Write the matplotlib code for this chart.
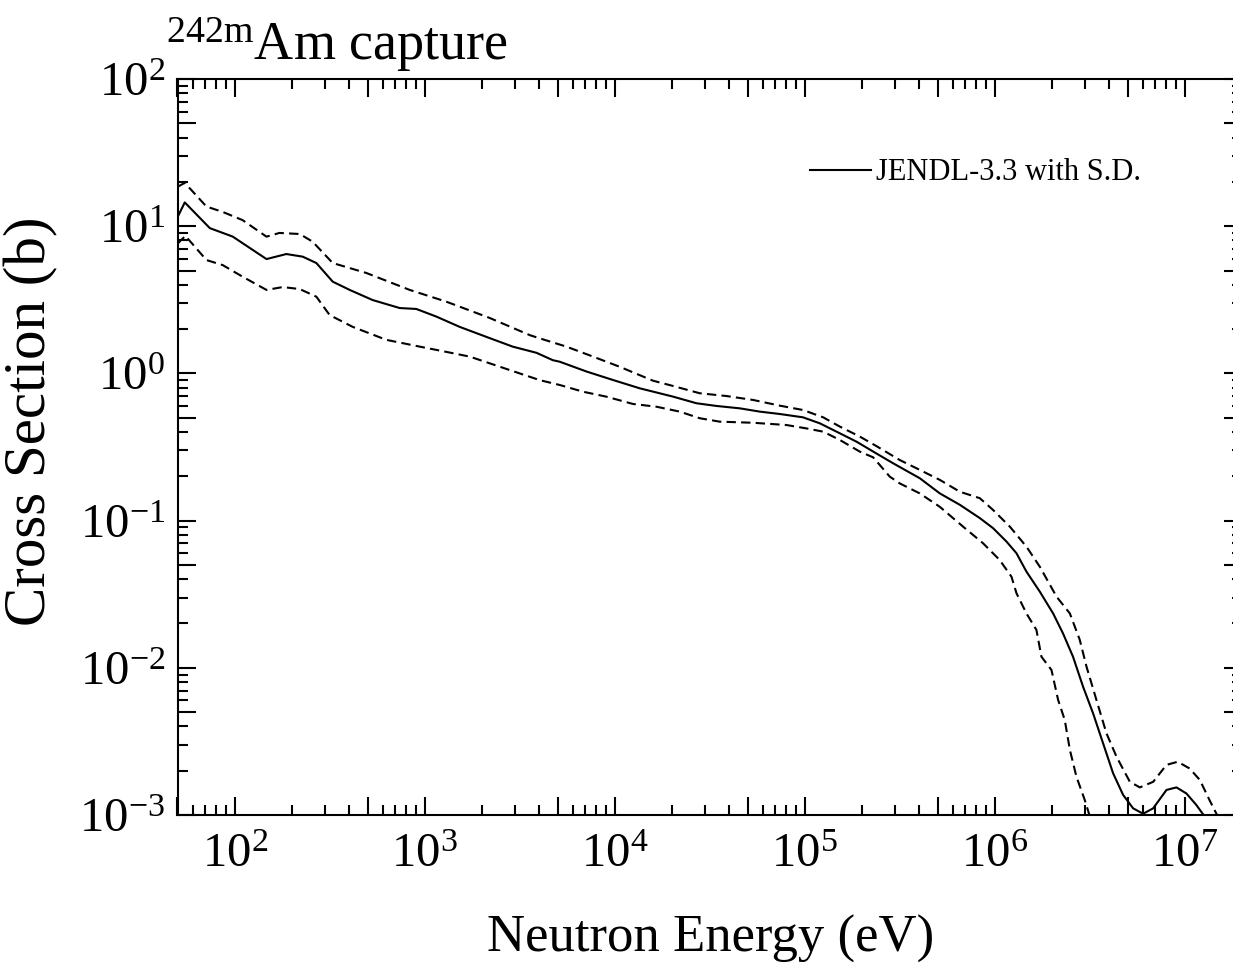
import numpy as np
import matplotlib
matplotlib.use("Agg")
import matplotlib.pyplot as plt
from matplotlib.ticker import LogLocator, FuncFormatter, NullFormatter

# JENDL-3.3 242mAm capture, central values (eV, barn)
e_mid = [50, 54.6, 74, 97.6, 147, 187, 228, 269, 328, 403, 532, 738, 903, 1153,
         1528, 2112, 2904, 3874, 4720, 5140, 7100, 9790, 13540, 20300, 26900,
         34300, 45500, 58000, 73800, 97900, 1.2e5, 1.47e5, 1.87e5, 2.38e5,
         2.92e5, 4.03e5, 5.14e5, 6.55e5, 8.34e5, 9.8e5, 1.153e6, 1.301e6,
         1.468e6, 1.726e6, 2.028e6, 2.287e6, 2.58e6, 2.915e6, 3.29e6, 3.715e6,
         4.195e6, 4.735e6, 5.345e6, 6.035e6, 6.815e6, 8.01e6, 9.04e6, 1.02e7,
         1.15e7, 1.27e7, 1.35e7]
xs_mid = [11.5, 14.5, 9.7, 8.5, 5.98, 6.47, 6.21, 5.62, 4.20, 3.69, 3.15, 2.78,
          2.74, 2.43, 2.07, 1.77, 1.52, 1.38, 1.23, 1.20, 1.03, 0.902, 0.792,
          0.695, 0.627, 0.601, 0.579, 0.550, 0.530, 0.503, 0.458, 0.402, 0.344,
          0.286, 0.245, 0.194, 0.153, 0.128, 0.104, 0.0888, 0.0720, 0.0600,
          0.0450, 0.0329, 0.0234, 0.0171, 0.0119, 0.00744, 0.00491, 0.00307,
          0.00192, 0.00137, 0.00111, 0.00102, 0.00111, 0.00148, 0.00154,
          0.00140, 0.00117, 0.00098, 0.0008]

# central + S.D.
e_hi = [50, 54.6, 71, 86.5, 110, 147, 172, 220, 257, 328, 493, 834, 1300, 2198,
        3570, 4030, 5570, 7690, 10600, 15900, 20300, 28000, 38700, 53500, 73800,
        97900, 1.25e5, 1.53e5, 1.95e5, 2.38e5, 3.16e5, 4.03e5, 5.14e5, 6.55e5,
        8.34e5, 9.8e5, 1.2e6, 1.468e6, 1.726e6, 2.115e6, 2.484e6, 2.8e6,
        3.038e6, 3.428e6, 3.87e6, 4.37e6, 5.14e6, 5.8e6, 6.815e6, 8.01e6,
        9.18e6, 1.06e7, 1.2e7, 1.35e7, 1.49e7, 1.6e7]
xs_hi = [18.5, 19.7, 13.6, 12.5, 11.0, 8.49, 9.0, 8.85, 7.85, 5.62, 4.81, 3.69,
         3.07, 2.38, 1.82, 1.73, 1.52, 1.30, 1.11, 0.892, 0.821, 0.733, 0.702,
         0.660, 0.604, 0.564, 0.503, 0.435, 0.372, 0.321, 0.258, 0.221, 0.189,
         0.157, 0.142, 0.118, 0.0910, 0.0665, 0.0486, 0.0304, 0.0234, 0.0155,
         0.0102, 0.00604, 0.00359, 0.00249, 0.00168, 0.00154, 0.00168, 0.00219,
         0.00230, 0.00207, 0.00173, 0.00126, 0.00098, 0.0008]

# central - S.D.
e_lo = [50, 55, 71, 86.5, 110, 147, 179, 220, 269, 316, 418, 628, 942, 1300,
        1726, 4030, 5140, 6810, 9030, 12470, 16560, 21980, 28000, 35700, 53500,
        80100, 1.02e5, 1.25e5, 1.53e5, 1.95e5, 2.29e5, 2.48e5, 2.8e5, 3.16e5,
        4.03e5, 5.14e5, 6.81e5, 8.67e5, 1.061e6, 1.224e6, 1.301e6, 1.468e6,
        1.656e6, 1.76e6, 1.988e6, 2.155e6, 2.335e6, 2.484e6, 2.69e6, 2.978e6,
        3.162e6, 3.4e6]
xs_lo = [7.6, 8.6, 5.89, 5.44, 4.54, 3.69, 3.86, 3.74, 3.32, 2.49, 2.07, 1.69,
         1.52, 1.40, 1.30, 0.90, 0.834, 0.751, 0.695, 0.620, 0.594, 0.550, 0.496,
         0.470, 0.462, 0.446, 0.423, 0.402, 0.353, 0.294, 0.269, 0.239, 0.199,
         0.179, 0.153, 0.124, 0.0910, 0.0702, 0.0540, 0.0416, 0.0321, 0.0234,
         0.0181, 0.0119, 0.00966, 0.00604, 0.00442, 0.00277, 0.00182, 0.00126,
         0.00098, 0.0007]

plt.rcParams["font.family"] = ["Liberation Serif", "DejaVu Serif"]
plt.rcParams["mathtext.fontset"] = "custom"
plt.rcParams["mathtext.rm"] = "Liberation Serif"
plt.rcParams["mathtext.it"] = "Liberation Serif:italic"
plt.rcParams["mathtext.bf"] = "Liberation Serif:bold"

W, H = 1233, 967
fig = plt.figure(figsize=(W / 100, H / 100), dpi=100)
# right spine (2e7 eV) sits just past the picture edge, as in the original
ax = fig.add_axes([177.5 / W, (H - 815) / H, 1064.5 / W, 736 / H])

ax.plot(e_mid, xs_mid, color="black", lw=1.5, label="JENDL-3.3 with S.D.")
ax.plot(e_hi, xs_hi, color="black", lw=1.5, dashes=(4.5, 2.5))
ax.plot(e_lo, xs_lo, color="black", lw=1.5, dashes=(4.5, 2.5))

ax.set_xscale("log")
ax.set_yscale("log")
ax.set_xlim(50, 2e7)
ax.set_ylim(1e-3, 1e2)


def decade_fmt(v, pos):
    e = np.log10(v)
    if abs(e - round(e)) < 1e-6:
        return r"$\mathregular{10^{%d}}$" % int(round(e))
    return ""


for axis in (ax.xaxis, ax.yaxis):
    axis.set_major_locator(LogLocator(base=10, subs=(1.0, 5.0), numticks=30))
    axis.set_minor_locator(LogLocator(base=10, subs=(2, 3, 4, 6, 7, 8, 9), numticks=30))
    axis.set_major_formatter(FuncFormatter(decade_fmt))
    axis.set_minor_formatter(NullFormatter())

ax.tick_params(which="both", direction="in", top=True, right=True, width=1.5)
ax.tick_params(which="major", length=13)
ax.tick_params(which="minor", length=7)
ax.tick_params(axis="x", labelsize=35, pad=13)
ax.tick_params(axis="y", labelsize=35, pad=9)
for sp in ax.spines.values():
    sp.set_linewidth(1.5)

ax.set_xlabel("Neutron Energy (eV)", fontsize=38)
ax.xaxis.set_label_coords((711 - 177.5) / 1064.5, (815 - 915) / 736)
ax.set_ylabel("Cross Section (b)", fontsize=42.5)
ax.yaxis.set_label_coords((58 - 177.5) / 1064.5, (815 - 421) / 736)

fig.text(166 / W, 1 - 60 / H, r"$\mathregular{^{242m}}$Am capture",
         fontsize=39, ha="left", va="baseline")

ax.legend(loc="center left", bbox_to_anchor=(810 / W, 1 - 173 / H),
          bbox_transform=fig.transFigure, frameon=False, fontsize=22,
          handlelength=2.0, handletextpad=0.15, borderpad=0, borderaxespad=0)

fig.savefig("out.png", dpi=100)
